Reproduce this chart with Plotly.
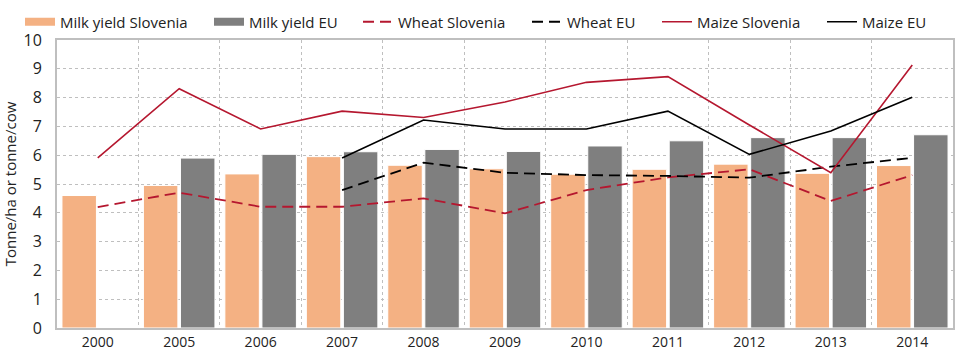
import plotly.graph_objects as go

years = ["2000", "2005", "2006", "2007", "2008", "2009", "2010", "2011", "2012", "2013", "2014"]
milk_slovenia = [4.6, 4.95, 5.35, 5.95, 5.65, 5.53, 5.34, 5.51, 5.69, 5.37, 5.64]
milk_eu = [None, 5.9, 6.03, 6.12, 6.2, 6.13, 6.32, 6.5, 6.61, 6.61, 6.71]
wheat_slovenia = [4.2, 4.7, 4.21, 4.21, 4.5, 3.98, 4.79, 5.23, 5.51, 4.41, 5.31]
wheat_eu = [None, None, None, 4.79, 5.74, 5.39, 5.31, 5.28, 5.22, 5.6, 5.91]
maize_slovenia = [5.91, 8.31, 6.91, 7.53, 7.31, 7.85, 8.53, 8.73, 7.05, 5.39, 9.13]
maize_eu = [None, None, None, 5.9, 7.22, 6.91, 6.91, 7.53, 6.03, 6.84, 8.01]

RED = "#B5172F"
PEACH = "#F4B183"
GREY = "#7F7F7F"
DASH = "11px,6px"

fig = go.Figure()
fig.add_bar(x=years, y=milk_slovenia, name="Milk yield Slovenia", showlegend=False,
            marker=dict(color=PEACH, line=dict(color="white", width=1)))
fig.add_bar(x=years, y=milk_eu, name="Milk yield EU", showlegend=False,
            marker=dict(color=GREY, line=dict(color="white", width=1)))
fig.add_scatter(x=years, y=wheat_slovenia, name="Wheat Slovenia", mode="lines",
                line=dict(color=RED, width=1.8, dash=DASH), legend="legend3")
fig.add_scatter(x=years, y=wheat_eu, name="Wheat EU", mode="lines",
                line=dict(color="black", width=1.8, dash=DASH), legend="legend4")
fig.add_scatter(x=years, y=maize_slovenia, name="Maize Slovenia", mode="lines",
                line=dict(color=RED, width=1.6), legend="legend5")
fig.add_scatter(x=years, y=maize_eu, name="Maize EU", mode="lines",
                line=dict(color="black", width=1.6), legend="legend6")
# legend keys for the bar series (wide flat swatches as in the original)
fig.add_scatter(x=[years[0]], y=[None], name="Milk yield Slovenia", mode="lines",
                line=dict(color=PEACH, width=8), legend="legend", hoverinfo="skip")
fig.add_scatter(x=[years[0]], y=[None], name="Milk yield EU", mode="lines",
                line=dict(color=GREY, width=8), legend="legend2", hoverinfo="skip")

PLOT_L, PLOT_W = 57, 896
def lx(px):
    return (px - PLOT_L) / PLOT_W

leg_common = dict(orientation="h", yanchor="middle", y=1.0 + 18 / 288, xanchor="left",
                  font=dict(size=15), bgcolor="rgba(0,0,0,0)", borderwidth=0,
                  itemwidth=30, tracegroupgap=0)
starts = [20, 209, 358, 527, 657, 822]
layout_legends = {}
for i, s in enumerate(starts):
    key = "legend" if i == 0 else f"legend{i + 1}"
    layout_legends[key] = dict(leg_common, x=lx(s))

fig.update_layout(
    width=960, height=350,
    margin=dict(l=57, r=7, t=40, b=22, autoexpand=False),
    paper_bgcolor="white", plot_bgcolor="white",
    font=dict(family="Open Sans", size=14, color="#222"),
    barmode="group", bargap=0.09, bargroupgap=0.07,
    showlegend=True,
    **layout_legends,
)
fig.update_xaxes(type="category", tickson="boundaries", showgrid=True, automargin=False,
                 gridcolor="#BFBFBF", griddash="dot", gridwidth=1,
                 showline=True, linecolor="#BFBFBF", linewidth=2, mirror=True,
                 ticks="", tickfont=dict(size=14), ticklabelstandoff=0)
fig.update_yaxes(range=[0, 10], dtick=1, showgrid=True, automargin=False,
                 gridcolor="#BFBFBF", griddash="dot", gridwidth=1,
                 showline=True, linecolor="#BFBFBF", linewidth=2, mirror=True,
                 zeroline=False, ticks="", tickfont=dict(size=16), ticklabelstandoff=10,
                 title=dict(text="Tonne/ha or tonne/cow", font=dict(size=15), standoff=6))

fig.write_html("out.html")
